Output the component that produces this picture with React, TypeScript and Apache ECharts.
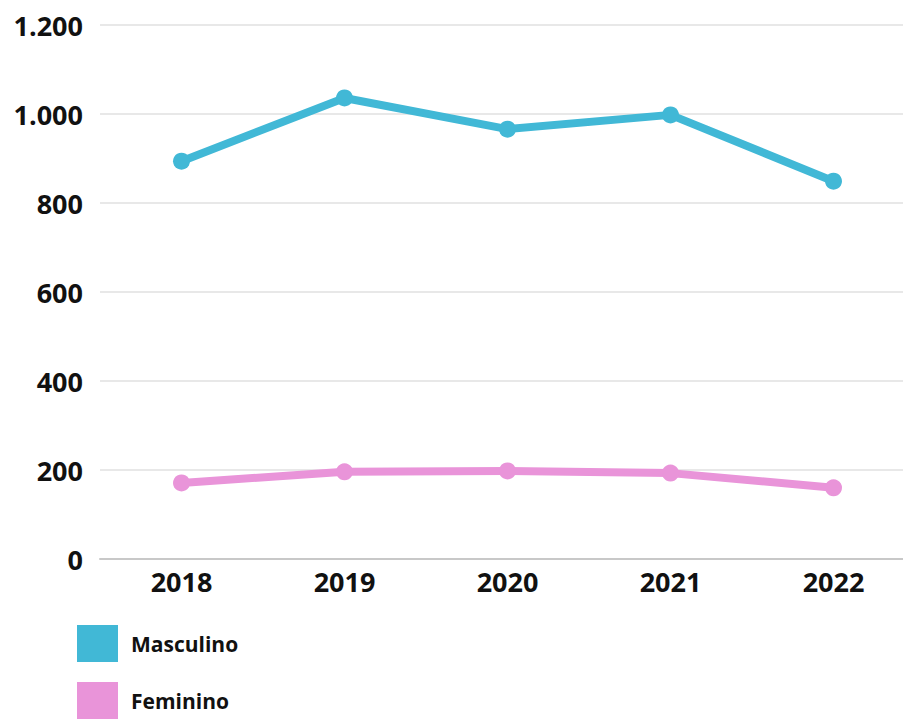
import React, { useEffect, useRef } from "react";
import * as echarts from "echarts";

const categories = ["2018", "2019", "2020", "2021", "2022"];
const masculino = [894, 1036, 966, 998, 849];
const feminino = [171, 196, 198, 193, 160];
const seriesNames = ["Masculino", "Feminino"];

export default function App() {
  const ref = useRef<HTMLDivElement>(null);
  useEffect(() => {
    document.documentElement.style.overflow = "hidden";
    document.body.style.overflow = "hidden";
    const chart = echarts.init(ref.current!, null, { renderer: "svg" });
    const font = "'Open Sans', 'Noto Sans', sans-serif";
    chart.setOption({
      animation: false,
      color: ["#41B8D6", "#E994D9"],
      grid: { left: 100, right: 5, top: 25, bottom: 161 },
      legend: {
        orient: "vertical",
        left: 77,
        top: 625,
        padding: 0,
        itemWidth: 41,
        itemHeight: 37,
        itemGap: 20,
        icon: "rect",
        data: seriesNames,
        textStyle: {
          fontFamily: font,
          fontWeight: "bold",
          fontSize: 21,
          color: "#111",
          padding: [0, 0, 0, 8],
        },
      },
      xAxis: {
        type: "category",
        data: categories,
        axisTick: { show: false },
        axisLine: { lineStyle: { color: "#c8c8c8", width: 2 } },
        axisLabel: {
          fontFamily: font,
          fontWeight: "bold",
          fontSize: 27,
          color: "#111",
          margin: 9,
        },
      },
      yAxis: {
        type: "value",
        min: 0,
        max: 1200,
        interval: 200,
        axisLine: { show: false },
        axisTick: { show: false },
        splitLine: { lineStyle: { color: "#e8e8e8", width: 2 } },
        axisLabel: {
          fontFamily: font,
          fontWeight: "bold",
          fontSize: 27,
          color: "#111",
          margin: 17,
          formatter: (v: number) =>
            String(v).replace(/\B(?=(\d{3})+(?!\d))/g, "."),
        },
      },
      series: [
        {
          name: seriesNames[0],
          type: "line",
          data: masculino,
          symbol: "circle",
          symbolSize: 17,
          lineStyle: { width: 8 },
        },
        {
          name: seriesNames[1],
          type: "line",
          data: feminino,
          symbol: "circle",
          symbolSize: 17,
          lineStyle: { width: 8 },
        },
      ],
    });
    return () => chart.dispose();
  }, []);
  return (
    <div
      style={{
        position: "absolute",
        left: 0,
        top: 0,
        width: 903,
        height: 720,
        overflow: "hidden",
      }}
    >
      <div ref={ref} style={{ width: 920, height: 720 }} />
    </div>
  );
}
